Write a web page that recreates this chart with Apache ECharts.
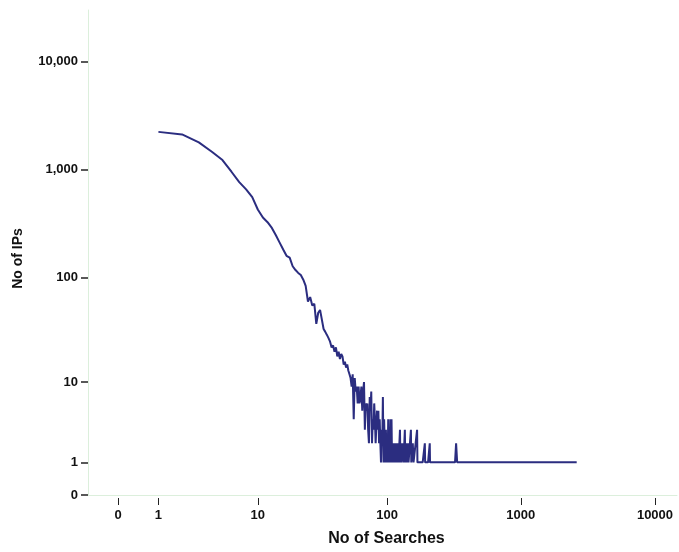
<!DOCTYPE html>
<html>
<head>
<meta charset="utf-8">
<script src="https://cdn.jsdelivr.net/npm/echarts@6/dist/echarts.min.js"></script>
<style>
  html, body { margin: 0; padding: 0; background: #ffffff; }
  #chart { width: 679px; height: 552px; }
</style>
</head>
<body>
<div id="chart"></div>
<script>
// ---- data (No of Searches -> No of IPs) ----
const searches = [
  1,2,3,4,5,6,7,8,9,10,11,12,13,14,15,16,17,18,19,20,
  21,22,23,24,25,26,27,28,29,30,31,32,33,34,35,36,37,38,39,40,
  41,42,43,44,45,46,47,48,49,50,51,52,53,54,55,56,57,58,59,60,
  61,62,63,64,65,66,67,68,69,70,71,72,73,74,75,76,77,78,79,80,
  81,82,83,84,85,86,87,88,89,90,91,92,93,94,95,96,97,98,99,100,
  101,102,103,104,105,106,107,108,109,110,111,112,113,114,115,116,117,118,119,120,
  121,122,124,125,126,127,128,130,131,133,134,136,137,139,140,142,144,145,147,149,
  151,152,154,156,158,160,163,165,168,169,172,175,178,181,185,188,192,193,197,203,
  209,210,215,222,236,252,275,301,323,329,335,370,430,520,690,2610
];
const ipCounts = [
  2240,2120,1790,1470,1230,960,770,660,560,430,362,328,290,248,212,183,160,154,128,118,
  111,106,96,84,60,66,55,57,37,47,50,52,33,31,29,27,25,22,23,20,
  22,18,20,17,19,18,15,16,14,15,13,12,11,9,12,4,11,8,9,6,
  9,6,7,9,5,8,10,3,6,5,6,3,2,7,5,8,2,4,3,6,
  4,2,2,5,3,5,2,4,2,1,3,2,7,1,4,2,1,3,1,2,
  1,4,1,2,1,4,1,4,1,2,1,2,1,1,2,1,1,2,1,1,
  2,1,1,3,1,2,1,1,2,1,1,3,1,2,1,1,2,1,1,1,
  3,1,1,2,1,1,1,1,3,1,1,1,1,1,1,1,2,1,1,1,
  2,1,1,1,1,1,1,1,1,2,1,1,1,1,1,1
];
const tickValues = [0, 1, 10, 100, 1000, 10000];
const xTickLabels = ['0', '1', '10', '100', '1000', '10000'];
const yTickLabels = ['0', '1', '10', '100', '1,000', '10,000'];
const xTitle = 'No of Searches';
const yTitle = 'No of IPs';

// safe-log scale: log10(1 + v)
const tf = v => Math.log10(1 + v);
const tickPos = tickValues.map(tf);
function labelFor(labels) {
  return function (val) {
    for (let i = 0; i < tickPos.length; i++) {
      if (Math.abs(tickPos[i] - val) < 1e-6) return labels[i];
    }
    return '';
  };
}

const seriesData = searches.map((s, i) => [tf(s), tf(ipCounts[i])]);

const FONT = 'Arial, "Liberation Sans", Helvetica, sans-serif';
const chart = echarts.init(document.getElementById('chart'), null, { renderer: 'canvas' });
const X_MIN = -0.2235, X_MAX = 4.164, Y_MIN = 0, Y_MAX = 4.475;

chart.setOption({
  backgroundColor: '#ffffff',
  animation: false,
  grid: { left: 88, right: 2, top: 10, bottom: 52, containLabel: false },
  xAxis: [
    {
      type: 'value', min: X_MIN, max: X_MAX, position: 'bottom',
      axisLine: { show: true, onZero: false, lineStyle: { color: '#dcefdc', width: 1 } },
      axisTick: { show: false }, axisLabel: { show: false }, splitLine: { show: false }
    },
    {
      type: 'value', min: X_MIN, max: X_MAX, position: 'bottom', offset: 3,
      axisLine: { show: false, onZero: false },
      axisTick: { show: true, length: 7, customValues: tickPos, lineStyle: { color: '#222', width: 1 } },
      axisLabel: {
        show: true, customValues: tickPos, formatter: labelFor(xTickLabels),
        color: '#111', fontWeight: 'bold', fontSize: 13, fontFamily: FONT, margin: 11
      },
      splitLine: { show: false },
      name: xTitle, nameLocation: 'middle', nameGap: 33,
      nameTextStyle: { color: '#111', fontWeight: 'bold', fontSize: 16, fontFamily: FONT, padding: [0, 0, 0, 8] }
    }
  ],
  yAxis: {
    type: 'value', min: Y_MIN, max: Y_MAX,
    axisLine: { show: true, onZero: false, lineStyle: { color: '#dcefdc', width: 1 } },
    axisTick: { show: true, length: 7, customValues: tickPos, lineStyle: { color: '#222', width: 1.5 } },
    axisLabel: {
      show: true, customValues: tickPos, formatter: labelFor(yTickLabels),
      color: '#111', fontWeight: 'bold', fontSize: 13, fontFamily: FONT, margin: 10
    },
    splitLine: { show: false },
    name: yTitle, nameLocation: 'middle', nameGap: 63, nameRotate: 90,
    nameTextStyle: { color: '#111', fontWeight: 'bold', fontSize: 14, fontFamily: FONT, padding: [0, 12, 0, 0] }
  },
  series: [{
    type: 'line', xAxisIndex: 0, yAxisIndex: 0,
    data: seriesData, showSymbol: false, symbol: 'none',
    lineStyle: { color: '#2b2d80', width: 2 },
    silent: true
  }]
});
</script>
</body>
</html>
